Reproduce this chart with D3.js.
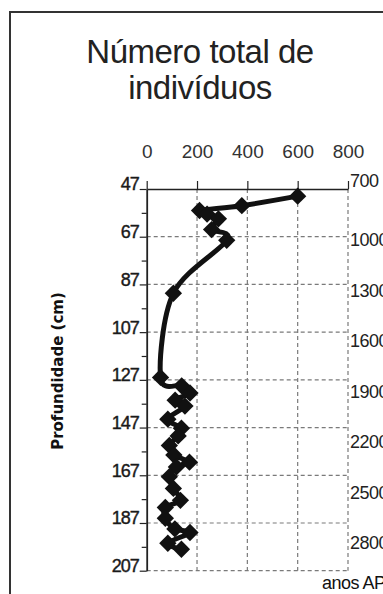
<!DOCTYPE html>
<html>
<head>
<meta charset="utf-8">
<script src="https://cdn.jsdelivr.net/npm/d3@7"></script>
<style>
  body { margin: 0; background: #fff; }
  svg { display: block; }
</style>
</head>
<body>
<div id="graph"></div>
<script>
const width = 383, height = 594;

// depth (cm) and total individuals
const depths = [50, 54, 56, 57.5, 59.5, 64, 68.5, 90.7,
  126, 129.5, 132.5, 135.5, 138, 143.5, 147.3, 150.5, 154.5, 158.5, 161.5, 163.5,
  167.6, 172.5, 177.5, 180.5, 185, 189.5, 191, 195.5, 198];
const individuals = [600, 378, 210, 240, 285, 258, 318, 106,
  55, 139, 172, 113, 152, 84, 138, 125, 90, 108, 170, 118,
  90, 106, 134, 74, 74, 112, 172, 84, 138];

const xTicks = [0, 200, 400, 600, 800];
const depthTicks = [47, 67, 87, 107, 127, 147, 167, 187, 207];
const depthMinor = [57, 77, 97, 117, 137, 157, 177, 197];
const ageLabels = [700, 1000, 1300, 1600, 1900, 2200, 2500, 2800];
// age-depth relation used for the right hand labels
const ageRef = [1000, 2800], ageRefDepth = [68.4, 195.4];

const data = depths.map((d, i) => ({depth: d, value: individuals[i]}));

const svg = d3.select("#graph").append("svg")
  .attr("width", width)
  .attr("height", height);

// frame
svg.append("rect")
  .attr("x", 10).attr("y", 12)
  .attr("width", 420).attr("height", 620)
  .attr("fill", "none")
  .attr("stroke", "#333")
  .attr("stroke-width", 2);

// title
const title = svg.append("text")
  .attr("text-anchor", "middle")
  .attr("font-family", "Liberation Sans, Arial, sans-serif")
  .attr("font-size", 33)
  .attr("letter-spacing", "-0.5px")
  .attr("fill", "#222");
title.append("tspan").attr("x", 200).attr("y", 63).text("Número total de");
title.append("tspan").attr("x", 200).attr("y", 99).text("indivíduos");

const x = d3.scaleLinear().domain([0, 800]).range([146.7, 348]);
const y = d3.scaleLinear().domain([47, 207]).range([189, 570.7]);
const ageDepth = d3.scaleLinear().domain(ageRef).range(ageRefDepth);

// grid
const grid = svg.append("g")
  .attr("stroke", "#7a7a7a")
  .attr("stroke-width", 1.2)
  .attr("stroke-dasharray", "4,3");
grid.selectAll("line.v")
  .data(xTicks.slice(1))
  .join("line")
  .attr("class", "v")
  .attr("x1", d => x(d)).attr("x2", d => x(d))
  .attr("y1", y(47)).attr("y2", y(207));
grid.selectAll("line.h")
  .data(depthTicks.slice(1))
  .join("line")
  .attr("class", "h")
  .attr("x1", x(0)).attr("x2", x(800))
  .attr("y1", d => y(d)).attr("y2", d => y(d));

// top axis
const topAxis = svg.append("g")
  .attr("transform", "translate(0," + y(47) + ")")
  .call(d3.axisTop(x).tickValues(xTicks).tickSize(8).tickPadding(23).tickSizeOuter(0));
topAxis.select(".domain").attr("stroke", "#222").attr("stroke-width", 1.5);
topAxis.selectAll(".tick line").attr("stroke", "#222").attr("stroke-width", 1.2);
topAxis.selectAll("text")
  .attr("font-family", "Liberation Sans, Arial, sans-serif")
  .attr("font-size", 19)
  .attr("fill", "#333")
  .attr("dy", 0);

// left axis
const leftAxis = svg.append("g")
  .attr("transform", "translate(" + x(0) + ",0)")
  .call(d3.axisLeft(y).tickValues(depthTicks).tickSize(7).tickPadding(1).tickSizeOuter(0));
leftAxis.select(".domain").attr("stroke", "#222").attr("stroke-width", 1.8);
leftAxis.selectAll(".tick line").attr("stroke", "#222").attr("stroke-width", 1.2);
leftAxis.selectAll("text")
  .attr("font-family", "Liberation Sans, Arial, sans-serif")
  .attr("font-size", 18)
  .attr("letter-spacing", "-1px")
  .attr("fill", "#1a1a1a")
  .attr("stroke", "#1a1a1a")
  .attr("stroke-width", 0.4)
  .attr("dy", "0.05em");

svg.append("g")
  .attr("transform", "translate(" + x(0) + ",0)")
  .call(d3.axisLeft(y).tickValues(depthMinor).tickSize(5).tickFormat("").tickSizeOuter(0))
  .call(g => g.select(".domain").remove())
  .selectAll(".tick line").attr("stroke", "#222").attr("stroke-width", 1.2);

// right hand age labels (the first one sits just above the top line)
const ageY = d => {
  const p = y(ageDepth(d));
  return p < y(47) + 6 ? y(47) - 8 : p;
};
svg.append("g").selectAll("text")
  .data(ageLabels)
  .join("text")
  .attr("x", x(800) + 2)
  .attr("y", ageY)
  .attr("dy", "0.35em")
  .attr("font-family", "Liberation Sans, Arial, sans-serif")
  .attr("font-size", 18)
  .attr("letter-spacing", "-0.5px")
  .attr("fill", "#222")
  .text(d => d);

svg.append("text")
  .attr("x", 322).attr("y", 589)
  .attr("font-family", "Liberation Sans, Arial, sans-serif")
  .attr("font-size", 18)
  .attr("letter-spacing", "-0.5px")
  .attr("fill", "#111")
  .text("anos AP");

// y title
svg.append("text")
  .attr("transform", "translate(63,371) rotate(-90)")
  .attr("text-anchor", "middle")
  .attr("font-family", "DejaVu Sans, sans-serif")
  .attr("font-weight", "bold")
  .attr("font-size", 15)
  .attr("fill", "#111")
  .text("Profundidade (cm)");

// series
const line = d3.line()
  .x(d => x(d.value))
  .y(d => y(d.depth))
  .curve(d3.curveCardinal.tension(0));

svg.append("path")
  .datum(data)
  .attr("d", line)
  .attr("fill", "none")
  .attr("stroke", "#111")
  .attr("stroke-width", 5)
  .attr("stroke-linejoin", "round");

svg.append("g").selectAll("path")
  .data(data)
  .join("path")
  .attr("d", d3.symbol(d3.symbolSquare, 150))
  .attr("transform", d => "translate(" + x(d.value) + "," + y(d.depth) + ") rotate(45)")
  .attr("fill", "#111");
</script>
</body>
</html>
